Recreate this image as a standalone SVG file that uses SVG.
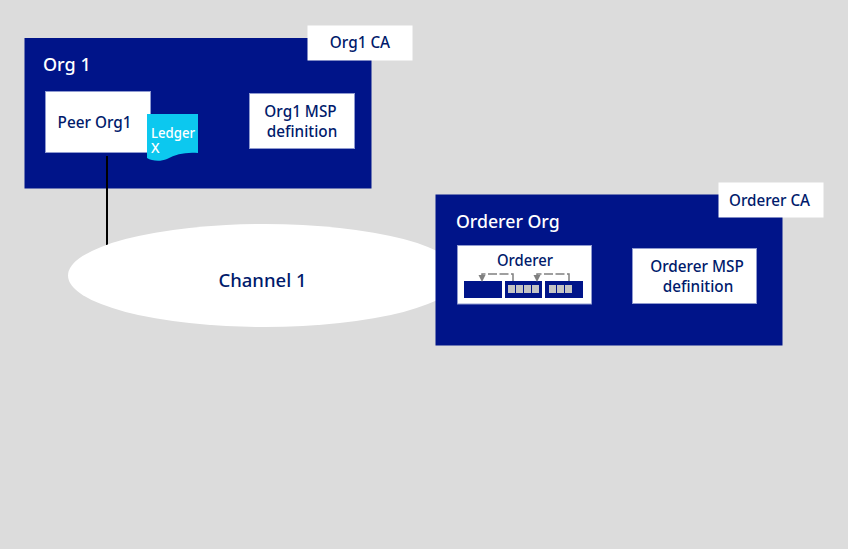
<svg xmlns="http://www.w3.org/2000/svg" width="848" height="549" viewBox="0 0 848 549">
<defs>
<style>
text{font-family:"Noto Sans","Liberation Sans",sans-serif;font-weight:500;fill:#001a6b}
.w{fill:#fff}
.org{fill:#001489}
.box{fill:#fff;stroke:#8f9ad0;stroke-width:1}
.cell{fill:#001489}
.g{fill:#c4c4c4}
.d{fill:none;stroke:#808080;stroke-width:1.5}
.t15{font-size:15.300px}
.t16{font-size:15.300px}
.m{text-anchor:middle}
</style>
<marker id="a" markerWidth="8" markerHeight="8" refX="4" refY="0" orient="0" markerUnits="userSpaceOnUse"><path d="M0.500,0H7.500L4,7Z" fill="#808080"/></marker>
</defs>
<rect width="848" height="549" fill="#dcdcdc"/>
<g id="org1">
<rect class="org" x="24.500" y="38" width="347" height="150.500"/>
<text class="w" x="43" y="71" font-size="18">Org 1</text>
</g>
<g id="org1-ca"><rect x="307.500" y="25.500" width="105" height="35" fill="#fff"/><text class="t16 m" x="360" y="48">Org1 CA</text></g>
<g id="peer-org1"><rect class="box" x="45.500" y="91.500" width="105" height="61"/><text class="t16 m" x="94.500" y="128">Peer Org1</text></g>
<g id="ledger-x"><path d="M147,114H198V153C186,152 176,154 167,159C160,162 152,161 147,158Z" fill="#0cc8ef"/><text class="w" font-size="14" x="151" y="138" textLength="44" lengthAdjust="spacingAndGlyphs">Ledger</text><text class="w" font-size="14" x="151" y="153">X</text></g>
<g id="org1-msp"><rect class="box" x="249.500" y="93.500" width="105" height="55"/><text class="t15 m" x="300.500" y="117">Org1 MSP</text><text class="t15 m" x="302" y="137">definition</text></g>
<g id="connectors"><path d="M107,156V245" fill="none" stroke="#000" stroke-width="2"/></g>
<g id="channel-1"><ellipse cx="264.500" cy="275.500" rx="196.500" ry="51.500" fill="#fff"/><text class="m" x="262.500" y="287" font-size="18.500">Channel 1</text></g>
<g id="orderer-org">
<rect class="org" x="435.500" y="194.500" width="347" height="151"/>
<text class="w" x="456" y="228" font-size="17.700">Orderer Org</text>
</g>
<g id="orderer-ca"><rect x="718.500" y="182.500" width="105" height="35" fill="#fff"/><text class="m" font-size="15.500" x="769.500" y="206" textLength="81" lengthAdjust="spacingAndGlyphs">Orderer CA</text></g>
<g id="orderer">
<rect class="box" x="457.500" y="245.500" width="134" height="58.500"/>
<text class="m" font-size="15.500" x="525" y="266" textLength="56" lengthAdjust="spacingAndGlyphs">Orderer</text>
<rect class="cell" x="464" y="281" width="38" height="17"/>
<rect class="cell" x="505" y="281" width="37" height="17"/>
<rect class="cell" x="545" y="281" width="38" height="17"/>
<path class="g" d="M508,285h7v8h-7zM516,285h7v8h-7zM524,285h7v8h-7zM532,285h7v8h-7zM549,285h7v8h-7zM557,285h7v8h-7zM565,285h7v8h-7z"/>
<path class="d" d="M513,281V274H482V275" stroke-dasharray="9 2.500" marker-end="url(#a)"/>
<path class="d" d="M569,281V274H537V275" stroke-dasharray="9 2.500" marker-end="url(#a)"/>
</g>
<g id="orderer-msp"><rect class="box" x="632.500" y="248.500" width="124" height="55"/><text class="t15 m" x="697" y="272">Orderer MSP</text><text class="t15 m" x="698" y="292">definition</text></g>
</svg>
